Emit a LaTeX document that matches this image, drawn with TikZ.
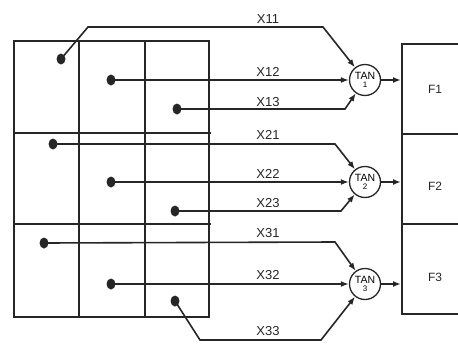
\documentclass[tikz,border=0pt]{standalone}
\usepackage{fontspec}
\setmainfont{Liberation Sans}
\usetikzlibrary{arrows.meta,shapes.geometric}
\begin{document}
\begin{tikzpicture}[x=1pt,y=-1pt,
  gridline/.style={line width=1.8pt,draw=black!85},
  sepline/.style={line width=2.4pt,draw=black!85},
  dotnode/.style={ellipse,fill=black!85,minimum width=9pt,minimum height=11pt,inner sep=0pt},
  tannode/.style={circle,draw=black!85,line width=1.3pt,minimum size=31pt,inner sep=0pt,align=center,font=\fontsize{10.5}{9}\selectfont},
  conn/.style={line width=1.6pt,draw=black!85,-{Latex[length=8pt,width=6pt]}},
  fbox/.style={rectangle,draw=black!85,line width=1.8pt,minimum width=80pt,minimum height=90pt,anchor=north west,inner sep=0pt},
  lbl/.style={font=\fontsize{13}{13}\selectfont,inner sep=0pt,text=black!85},
  flbl/.style={font=\fontsize{12}{12}\selectfont,inner sep=0pt,text=black!85}]
\useasboundingbox (0,0) rectangle (458,343);
% grid
\draw[gridline] (14,41) rectangle (209,317);
\draw[gridline] (79,41) -- (79,317);
\draw[gridline] (145,41) -- (145,317);
\draw[sepline] (14,133) -- (211,133);
\draw[sepline] (14,224) -- (211,224);
% dots
\node[dotnode] (d11) at (61,59) {};
\node[dotnode] (d12) at (111,80) {};
\node[dotnode] (d13) at (177,109) {};
\node[dotnode] (d21) at (53,144) {};
\node[dotnode] (d22) at (111,182) {};
\node[dotnode] (d23) at (175,211) {};
\node[dotnode] (d31) at (44,243) {};
\node[dotnode] (d32) at (111,284) {};
\node[dotnode] (d33) at (175,301) {};
% TAN units
\node[tannode] (t1) at (365,80) {TAN\\[-1pt]{\fontsize{8}{8}\selectfont 1}};
\node[tannode] (t2) at (365,182) {TAN\\[-1pt]{\fontsize{8}{8}\selectfont 2}};
\node[tannode] (t3) at (365,284) {TAN\\[-1pt]{\fontsize{8}{8}\selectfont 3}};
% F boxes
\node[fbox] (f1) at (401,43) {};
\node[fbox] (f2) at (401,133) {};
\node[fbox] (f3) at (401,223) {};
\node[flbl] (fl1) at (435,89) {F1};
\node[flbl] (fl2) at (435,186) {F2};
\node[flbl] (fl3) at (435,277) {F3};
% bend coordinates
\coordinate (b11a) at (88,27);
\coordinate (b11b) at (323,27);
\coordinate (b13) at (345,109);
\coordinate (b21) at (335,144);
\coordinate (b23) at (341,211);
\coordinate (b31) at (335,242);
\coordinate (b33a) at (200,340);
\coordinate (b33b) at (321,340);
% connectors
\draw[conn] (d11.center) -- (b11a) -- (b11b) -- (t1);
\draw[conn] (d12.center) -- (t1);
\draw[conn] (d13.center) -- (b13) -- (t1);
\draw[conn] (d21.center) -- (b21) -- (t2);
\draw[conn] (d22.center) -- (t2);
\draw[conn] (d23.center) -- (b23) -- (t2);
\draw[conn] (d31.center) -- (b31) -- (t3);
\draw[conn] (d32.center) -- (t3);
\draw[conn] (d33.center) -- (b33a) -- (b33b) -- (t3);
\draw[conn] (t1.east) -- (t1.east -| f1.west);
\draw[conn] (t2.east) -- (t2.east -| f2.west);
\draw[conn] (t3.east) -- (t3.east -| f3.west);
% labels
\node[lbl] (l11) at (268,19) {X11};
\node[lbl] (l12) at (268,72) {X12};
\node[lbl] (l13) at (268,102) {X13};
\node[lbl] (l21) at (268,135) {X21};
\node[lbl] (l22) at (268,174) {X22};
\node[lbl] (l23) at (268,203) {X23};
\node[lbl] (l31) at (268,233) {X31};
\node[lbl] (l32) at (268,275) {X32};
\node[lbl] (l33) at (268,331) {X33};
\end{tikzpicture}
\end{document}
